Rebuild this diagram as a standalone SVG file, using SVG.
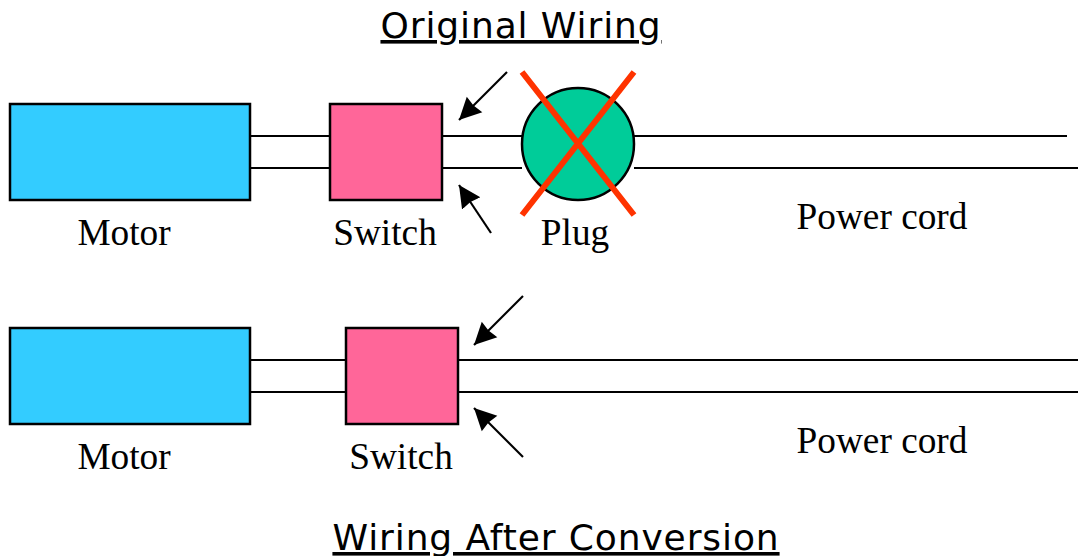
<svg xmlns="http://www.w3.org/2000/svg" width="1078" height="556" viewBox="0 0 1078 556">
<defs><marker id="a" markerUnits="userSpaceOnUse" markerWidth="24" markerHeight="24" refX="22" refY="12" orient="auto"><path d="M0 1L22 12L0 23L1.500 12Z" fill="#000"/></marker></defs>
<style>.t{font-family:"Liberation Serif",serif;font-size:37.300px;fill:#000}.h{font-family:"DejaVu Sans",sans-serif;font-size:36px;letter-spacing:.9px;fill:#000;text-decoration:underline;text-decoration-skip-ink:none}.s{stroke:#000;stroke-width:2.200;fill:none}.m{fill:#33ccff;stroke:#000;stroke-width:2.500}.w{fill:#ff6699;stroke:#000;stroke-width:2.500}</style>
<rect width="1078" height="556" fill="#fff"/>
<g id="connectors" class="s">
<path d="M250 136H330M250 168H330M442 136H522M442 168H522M634 136H1067M634 168H1078"/>
<path d="M250 360H346M250 392H346M458 360H1078M458 392H1078"/>
<path d="M507 72L459 120" marker-end="url(#a)"/><path d="M491 233L459 185" marker-end="url(#a)"/>
<path d="M523 296L474 345" marker-end="url(#a)"/><path d="M523 457L474 408" marker-end="url(#a)"/>
</g>
<text class="h" x="521" y="38" text-anchor="middle">Original Wiring</text>
<g id="motor1"><rect class="m" x="10" y="104" width="240" height="96"/><text class="t" x="124" y="245" text-anchor="middle">Motor</text></g>
<g id="switch1"><rect class="w" x="330" y="104" width="112" height="96"/><text class="t" x="385" y="245" text-anchor="middle">Switch</text></g>
<g id="plug"><circle cx="578" cy="144" r="56" fill="#00cc99" stroke="#000" stroke-width="2.500"/><path d="M522 72L634 215M634 72L522 215" stroke="#ff3300" stroke-width="6" fill="none"/><text class="t" x="575" y="245" text-anchor="middle">Plug</text></g>
<g id="cord1"><text class="t" x="882" y="229" text-anchor="middle">Power cord</text></g>
<g id="motor2"><rect class="m" x="10" y="328" width="240" height="96"/><text class="t" x="124" y="469" text-anchor="middle">Motor</text></g>
<g id="switch2"><rect class="w" x="346" y="328" width="112" height="96"/><text class="t" x="401" y="469" text-anchor="middle">Switch</text></g>
<g id="cord2"><text class="t" x="882" y="453" text-anchor="middle">Power cord</text></g>
<text class="h" x="556" y="550" text-anchor="middle">Wiring After Conversion</text>
</svg>
